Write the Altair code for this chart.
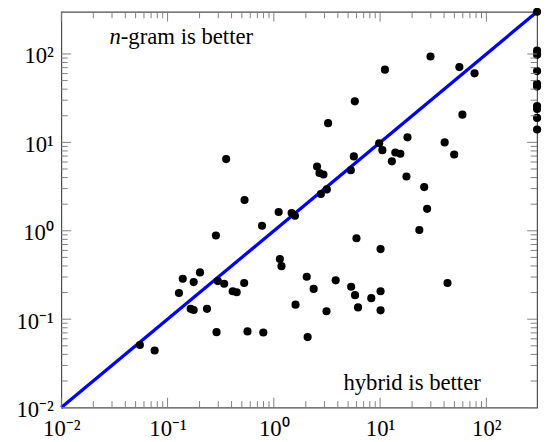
import altair as alt
import pandas as pd

# hybrid time (x) vs n-gram time (y)
hybrid = [300, 300, 300, 300, 300, 300, 300, 300, 300, 300,
          29.8, 55.7, 77.4, 11.1, 5.78, 3.24, 59.5, 18.1, 9.8, 10.5,
          13.9, 15.5, 12.9, 40.5, 49.8, 17.7, 26.0, 27.7, 23.4, 5.66,
          5.3, 2.55, 2.69, 2.93, 2.77, 3.15, 1.11, 1.47, 1.58, 0.356,
          0.53, 0.774, 0.285, 0.139, 0.202, 0.176, 0.128, 0.297, 0.341, 0.526,
          0.41, 0.447, 0.165, 0.176, 0.235, 0.289, 0.565, 0.796, 0.0549, 0.0756,
          5.99, 10.1, 1.14, 1.18, 2.04, 2.37, 3.82, 5.34, 5.81, 8.26,
          10.1, 6.2, 10.1, 43.1, 1.6, 3.13, 2.08]
ngram = [300, 109, 97.7, 64, 46, 43, 25.8, 23.9, 18.9, 14,
         93.5, 71, 60.4, 66.4, 29.1, 16.5, 20.6, 11.4, 9.77, 8.16,
         7.69, 7.43, 6.1, 10.0, 7.3, 4.11, 3.12, 1.77, 1.02, 6.94,
         4.84, 5.32, 4.51, 4.33, 2.61, 2.94, 1.63, 1.59, 1.48, 6.47,
         2.23, 1.14, 0.884, 0.287, 0.338, 0.263, 0.198, 0.27, 0.252, 0.257,
         0.207, 0.202, 0.131, 0.127, 0.131, 0.0714, 0.0727, 0.0708, 0.0511, 0.0442,
         0.824, 0.621, 0.48, 0.398, 0.302, 0.22, 0.275, 0.233, 0.187, 0.173,
         0.207, 0.136, 0.126, 0.257, 0.146, 0.123, 0.0628]

diag = [0.01, 300]
domain = [0.01, 300]
major_ticks = [0.01, 0.1, 1, 10, 100]
major_labels = ["10⁻²", "10⁻¹", "10⁰", "10¹", "10²"]
minor_ticks = [0.02, 0.03, 0.04, 0.05, 0.06, 0.07, 0.08, 0.09,
               0.2, 0.3, 0.4, 0.5, 0.6, 0.7, 0.8, 0.9,
               2, 3, 4, 5, 6, 7, 8, 9,
               20, 30, 40, 50, 60, 70, 80, 90]

ann_text = ["n", "-gram is better", "hybrid is better"]
ann_x = [0.0363, 0.0363, 20]
ann_y = [128, 128, 0.016]
ann_align = ["right", "left", "center"]
ann_style = ["italic", "normal", "normal"]

W, H = 482, 401
FONT = "Liberation Serif"
FS = 23

label_expr = ("datum.value < 0.05 ? '%s' : datum.value < 0.5 ? '%s' : datum.value < 5 ? '%s' : "
              "datum.value < 50 ? '%s' : '%s'") % tuple(major_labels)

xs = alt.Scale(type="log", domain=domain, nice=False)
ys = alt.Scale(type="log", domain=domain, nice=False)

xaxis = alt.Axis(values=major_ticks, labelExpr=label_expr, ticks=False, tickSize=0,
                 domain=False, grid=False, title=None, labelPadding=10,
                 labelFlush=False, labelOverlap=False)
yaxis = alt.Axis(values=major_ticks, labelExpr=label_expr, ticks=False, tickSize=0,
                 domain=False, grid=False, title=None, labelPadding=8,
                 labelOffset=2, labelFlush=False, labelOverlap=False)

pts = pd.DataFrame({"hybrid": hybrid, "ngram": ngram})
line_df = pd.DataFrame({"hybrid": diag, "ngram": diag})

line = alt.Chart(line_df).mark_line(color="#0000ff", strokeWidth=3.3).encode(
    x=alt.X("hybrid:Q", scale=xs, axis=xaxis),
    y=alt.Y("ngram:Q", scale=ys, axis=yaxis),
)

scatter = alt.Chart(pts).mark_circle(color="black", opacity=1, size=68).encode(
    x=alt.X("hybrid:Q", scale=xs, axis=xaxis),
    y=alt.Y("ngram:Q", scale=ys, axis=yaxis),
)


def xticks(vals, length):
    df = pd.DataFrame({"hybrid": vals})
    base = alt.Chart(df).mark_rule(color="#808080", strokeWidth=1)
    bottom = base.encode(x=alt.X("hybrid:Q", scale=xs, axis=xaxis), y=alt.value(H), y2=alt.value(H - length))
    top = base.encode(x=alt.X("hybrid:Q", scale=xs, axis=xaxis), y=alt.value(0), y2=alt.value(length))
    return [bottom, top]


def yticks(vals, length):
    df = pd.DataFrame({"ngram": vals})
    base = alt.Chart(df).mark_rule(color="#808080", strokeWidth=1)
    left = base.encode(y=alt.Y("ngram:Q", scale=ys, axis=yaxis), x=alt.value(0), x2=alt.value(length))
    right = base.encode(y=alt.Y("ngram:Q", scale=ys, axis=yaxis), x=alt.value(W), x2=alt.value(W - length))
    return [left, right]


tick_layers = xticks(major_ticks, 10) + xticks(minor_ticks, 6.5) + yticks(major_ticks, 10) + yticks(minor_ticks, 6.5)

ann_df = pd.DataFrame({"t": ann_text, "hybrid": ann_x, "ngram": ann_y})
ann_layers = []
for i in range(len(ann_text)):
    sub = ann_df.iloc[[i]]
    ann_layers.append(
        alt.Chart(sub).mark_text(font=FONT, fontSize=FS, color="black", align=ann_align[i],
                                 baseline="alphabetic", fontStyle=ann_style[i]).encode(
            x=alt.X("hybrid:Q", scale=xs, axis=xaxis),
            y=alt.Y("ngram:Q", scale=ys, axis=yaxis),
            text="t:N",
        )
    )

chart = alt.layer(line, scatter, *tick_layers, *ann_layers).properties(
    width=W, height=H,
    autosize=alt.AutoSizeParams(type="none"),
    padding={"left": 54, "top": 1, "right": 6, "bottom": 32},
).configure_view(
    stroke="#4d4d4d", strokeWidth=1.2,
).configure_axis(
    labelFont=FONT, labelFontSize=FS, labelColor="black",
)

chart.save("out.html", embed_options={"renderer": "svg", "actions": False})
